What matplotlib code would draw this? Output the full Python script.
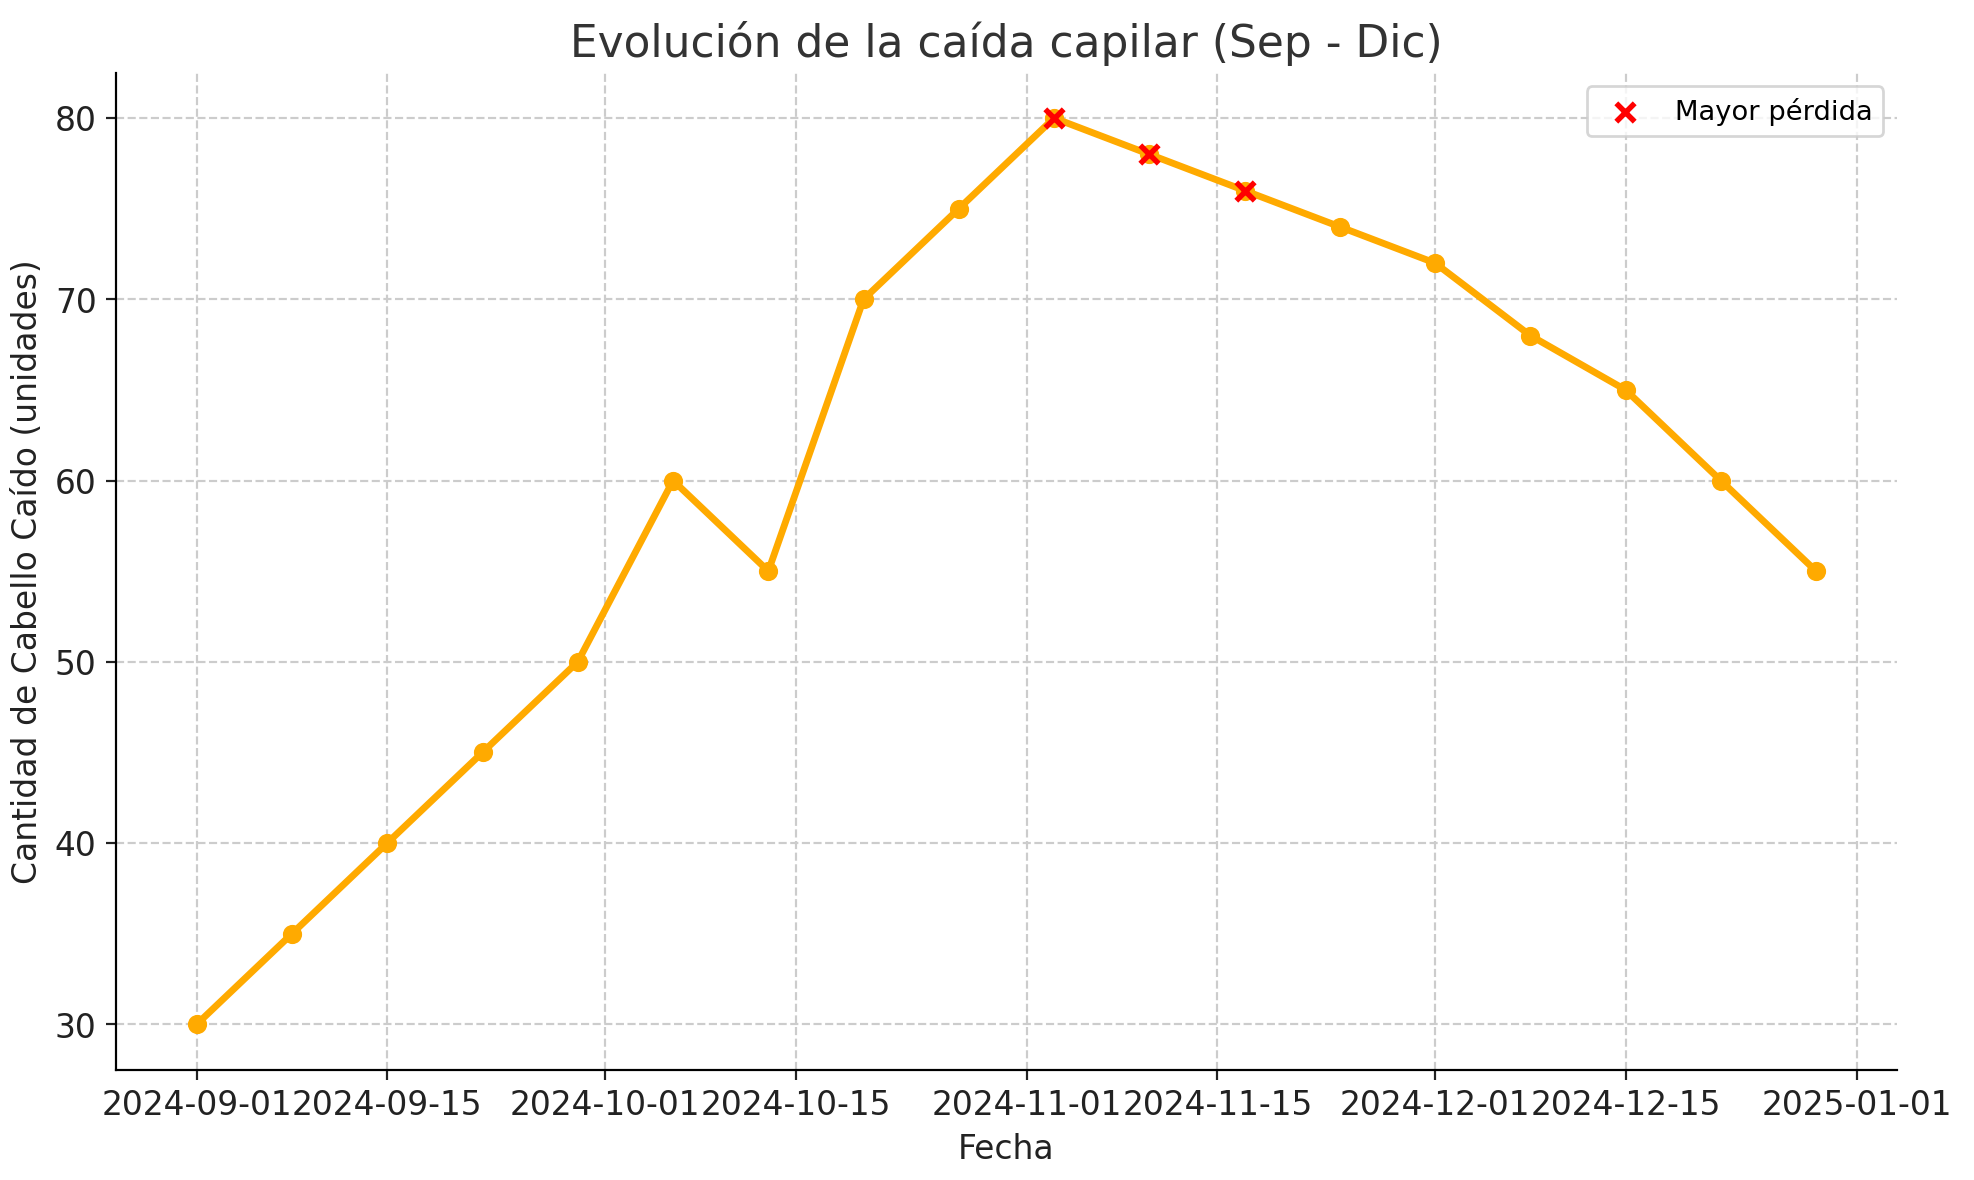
import matplotlib
matplotlib.use("Agg")
import matplotlib.pyplot as plt
import matplotlib.dates as mdates
import pandas as pd

dates = pd.date_range("2024-09-01", periods=18, freq="7D")
values = [30, 35, 40, 45, 50, 60, 55, 70, 75, 80, 78, 76, 74, 72, 68, 65, 60, 55]
highlight_dates = [pd.Timestamp("2024-11-03"), pd.Timestamp("2024-11-10"), pd.Timestamp("2024-11-17")]
highlight_values = [80, 78, 76]

plt.rcParams['font.family'] = ['DejaVu Sans']
fig, ax = plt.subplots(figsize=(10, 5.98), dpi=197.4)
ax.plot(dates, values, color='#FFAA00', marker='o', linewidth=2.5, markersize=6, zorder=2)
ax.scatter(highlight_dates, highlight_values, color='red', marker='x', s=45, linewidths=2,
           zorder=3, label='Mayor pérdida')

ax.set_title('Evolución de la caída capilar (Sep - Dic)', fontsize=16, color='#333333')
ax.set_xlabel('Fecha', fontsize=12, color='#222222')
ax.set_ylabel('Cantidad de Cabello Caído (unidades)', fontsize=12, color='#222222')
ax.xaxis.set_major_locator(mdates.DayLocator(bymonthday=[1, 15]))
ax.xaxis.set_major_formatter(mdates.DateFormatter('%Y-%m-%d'))
ax.tick_params(labelsize=12, colors='#222222')
ax.grid(True, linestyle='--', color='#cccccc', linewidth=0.8)
for s in ['top', 'right']:
    ax.spines[s].set_visible(False)
ax.legend(loc='upper right', fontsize=10)
fig.subplots_adjust(left=0.0587, right=0.961, top=0.938, bottom=0.0936)
fig.savefig('out.png')
